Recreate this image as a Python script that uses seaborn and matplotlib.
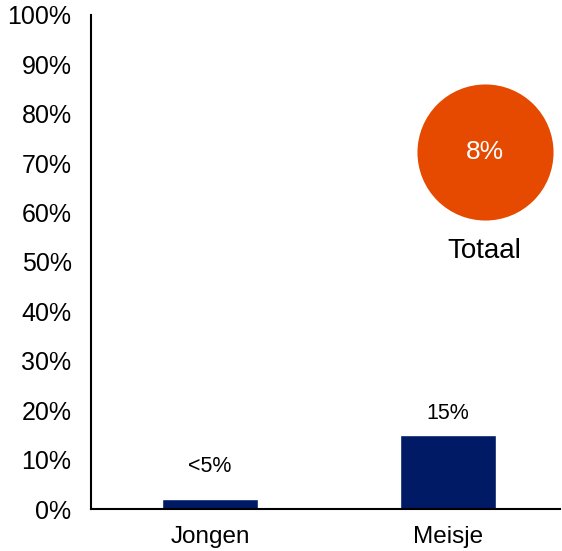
import numpy as np
import pandas as pd
import matplotlib
matplotlib.use("Agg")
import matplotlib.pyplot as plt
import seaborn as sns

# data
groepen = ["Jongen", "Meisje"]
waarden = [2, 15]
labels = ["<5%", "15%"]
label_y = [8.7, 19.4]
totaal_waarde = 8
totaal_label = "Totaal"

df = pd.DataFrame({"groep": groepen, "waarde": waarden})

sns.set_style("white")
plt.rcParams['font.family'] = ['Liberation Sans', 'DejaVu Sans']
plt.rcParams['text.color'] = 'black'
plt.rcParams['xtick.color'] = 'black'
plt.rcParams['ytick.color'] = 'black'

fig = plt.figure(figsize=(5.62, 5.51), dpi=100)
ax = fig.add_axes([0.162, 0.0762, 0.834, 0.897])

sns.barplot(data=df, x="groep", y="waarde", color="#001a66", width=0.4,
            saturation=1, ax=ax)

for i, (lab, ly) in enumerate(zip(labels, label_y)):
    ax.text(i, ly, lab, ha="center", va="center", fontsize=15.5, color="black")

# totaal bol
ax.scatter([1.155], [72.3], s=9600, color="#e64a00", zorder=3, linewidths=0)
ax.text(1.155, 72.3, f"{totaal_waarde}%", ha="center", va="center",
        color="white", fontsize=19, zorder=4)
ax.text(1.155, 52.3, totaal_label, ha="center", va="center", fontsize=20,
        color="black")

ax.set_xlim(-0.5, 1.47)
ax.set_ylim(0, 100)
ax.set_yticks(np.arange(0, 101, 10))
ax.set_yticklabels([f"{t}%" for t in range(0, 101, 10)])
ax.set_xlabel("")
ax.set_ylabel("")
ax.tick_params(axis="y", length=0, pad=14, labelsize=18, labelcolor="black")
ax.tick_params(axis="x", length=0, pad=12, labelsize=17.5, labelcolor="black")

sns.despine(ax=ax)
for s in ["left", "bottom"]:
    ax.spines[s].set_color("black")
    ax.spines[s].set_linewidth(1.5)

fig.savefig("out.png", dpi=100)
